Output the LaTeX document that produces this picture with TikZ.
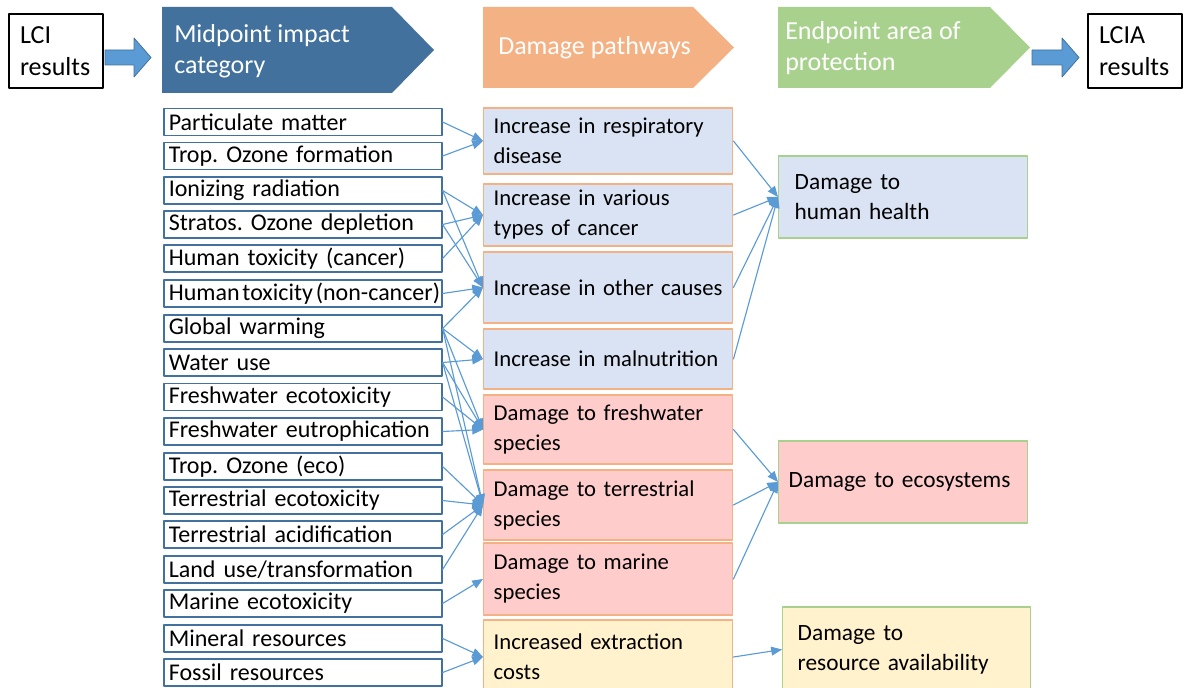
\documentclass[tikz,border=0pt]{standalone}
\usepackage{fontspec}
\setmainfont{Carlito}
\usepackage{xcolor}
\usetikzlibrary{arrows}
\frenchspacing
\definecolor{midblue}{HTML}{41719C}
\definecolor{pathorange}{HTML}{F4B183}
\definecolor{endgreen}{HTML}{A9D18E}
\definecolor{arrowblue}{HTML}{5B9BD5}
\definecolor{healthfill}{HTML}{DAE3F3}
\definecolor{ecofill}{HTML}{FFCCCC}
\definecolor{resfill}{HTML}{FFF2CC}
\begin{document}
\begin{tikzpicture}
			[line cap=round,line join=round,>=triangle 45,x=0.75pt,y=-0.75pt,
			headtext/.style={text=white,anchor=west,align=left,inner sep=0pt,font=\fontsize{19.5}{23.25}\selectfont},
			resbox/.style={draw=black,line width=1.5pt,anchor=north west,minimum height=55.5pt,text width=54pt,inner xsep=8.25pt,inner ysep=0pt,align=left,font=\fontsize{19.5}{24}\selectfont},
			midbox/.style={draw=midblue,line width=1.2pt,anchor=west,text width=201pt,inner xsep=3.75pt,inner ysep=0pt,minimum height=20pt,align=left,font=\fontsize{18}{21}\selectfont},
			pathbox/.style={draw=pathorange,line width=1.1pt,anchor=west,text width=171.75pt,inner xsep=7.5pt,inner ysep=0pt,align=left,font=\fontsize{17}{22.5}\selectfont},
			endbox/.style={draw=endgreen,line width=1.1pt,anchor=west,inner ysep=0pt,align=left,font=\fontsize{17.5}{22.5}\selectfont},
			conn/.style={draw=arrowblue,line width=0.85pt,->},
			blockarrow/.style={draw=midblue,fill=arrowblue,line width=0.6pt}]
			\useasboundingbox (0,0) rectangle (1192,688);
			% header
			\node[resbox] (lci) at (8,13) {LCI\\results};
			\draw[blockarrow] (105,50) -- (134,50) -- (134,38) -- (151,57.5) -- (134,77) -- (134,65) -- (105,65) -- cycle;
			\fill[midblue] (162,7) -- (392,7) -- (434,50) -- (392,93) -- (162,93) -- cycle;
			\node[headtext] (midhead) at (174,51.5) {Midpoint impact\\category};
			\fill[pathorange] (483,7) -- (693,7) -- (734,47.5) -- (693,88) -- (483,88) -- cycle;
			\node[headtext] (pathhead) at (498,47.5) {Damage pathways};
			\fill[endgreen] (778,7) -- (990,7) -- (1030,47.5) -- (990,88) -- (778,88) -- cycle;
			\node[headtext] (endhead) at (785,48) {Endpoint area of\\protection};
			\draw[blockarrow] (1032,50) -- (1062,50) -- (1062,38) -- (1079,57.5) -- (1062,77) -- (1062,65) -- (1032,65) -- cycle;
			\node[resbox] (lcia) at (1087,13) {LCIA\\results};
			% midpoint categories
			\node[midbox] (m1) at (163,122) {Particulate matter};
			\node[midbox] (m2) at (163,156) {Trop. Ozone formation};
			\node[midbox] (m3) at (163,190.5) {Ionizing radiation};
			\node[midbox] (m4) at (163,224.5) {Stratos. Ozone depletion};
			\node[midbox] (m5) at (163,258.5) {Human toxicity (cancer)};
			\node[midbox] (m6) at (163,293.5) {\spaceskip=0.12em\mbox{Human toxicity (non-cancer)}};
			\node[midbox] (m7) at (163,328.5) {Global warming};
			\node[midbox] (m8) at (163,362.5) {Water use};
			\node[midbox] (m9) at (163,397) {Freshwater ecotoxicity};
			\node[midbox] (m10) at (163,431.5) {Freshwater eutrophication};
			\node[midbox] (m11) at (163,466.5) {Trop. Ozone (eco)};
			\node[midbox] (m12) at (163,500.5) {Terrestrial ecotoxicity};
			\node[midbox] (m13) at (163,534.5) {Terrestrial acidification};
			\node[midbox] (m14) at (163,569.5) {Land use/transformation};
			\node[midbox] (m15) at (163,603.5) {Marine ecotoxicity};
			\node[midbox] (m16) at (163,638.5) {Mineral resources};
			\node[midbox] (m17) at (163,672.5) {Fossil resources};
			% damage pathways
			\node[pathbox,fill=healthfill,minimum height=49.5pt] (p1) at (483,141) {Increase in respiratory\\disease};
			\node[pathbox,fill=healthfill,minimum height=46.5pt] (p2) at (483,215) {Increase in various\\types of cancer};
			\node[pathbox,fill=healthfill,minimum height=53.25pt] (p3) at (483,287.5) {Increase~in~other~causes};
			\node[pathbox,fill=healthfill,minimum height=45pt] (p4) at (483,359) {Increase~in~malnutrition};
			\node[pathbox,fill=ecofill,minimum height=51.75pt] (p5) at (483,429.5) {Damage to freshwater\\species};
			\node[pathbox,fill=ecofill,minimum height=52.5pt] (p6) at (483,505) {Damage to terrestrial\\species};
			\node[pathbox,fill=ecofill,minimum height=54pt] (p7) at (483,579) {Damage to marine\\species};
			\node[pathbox,fill=resfill,minimum height=55.5pt] (p8) at (483,657) {Increased extraction\\costs};
			% endpoints
			\node[endbox,fill=healthfill,minimum height=61.5pt,text width=162.75pt,inner xsep=12pt] (e1) at (778,197) {Damage to\\human health};
			\node[endbox,fill=ecofill,minimum height=61.5pt,text width=171.75pt,inner xsep=7.5pt] (e2) at (778,482) {Damage to ecosystems};
			\node[endbox,fill=resfill,minimum height=63.75pt,text width=163.5pt,inner xsep=11.25pt] (e3) at (782,649.5) {Damage to\\resource availability};
			% midpoint -> pathway
			\draw[conn] (m1.east) -- (p1.west);
			\draw[conn] (m2.east) -- (p1.west);
			\draw[conn] (m3.east) -- (p2.west);
			\draw[conn] (m3.east) -- (p3.west);
			\draw[conn] (m4.east) -- (p2.west);
			\draw[conn] (m4.east) -- (p3.west);
			\draw[conn] (m5.east) -- (p2.west);
			\draw[conn] (m6.east) -- (p3.west);
			\draw[conn] (m7.east) -- (p3.west);
			\draw[conn] (m7.east) -- (p4.west);
			\draw[conn] (m7.east) -- (p5.west);
			\draw[conn] (m7.east) -- (p6.west);
			\draw[conn] (m8.east) -- (p4.west);
			\draw[conn] (m8.east) -- (p5.west);
			\draw[conn] (m8.east) -- (p6.west);
			\draw[conn] (m9.east) -- (p5.west);
			\draw[conn] (m10.east) -- (p5.west);
			\draw[conn] (m11.east) -- (p6.west);
			\draw[conn] (m12.east) -- (p6.west);
			\draw[conn] (m13.east) -- (p6.west);
			\draw[conn] (m14.east) -- (p6.west);
			\draw[conn] (m15.east) -- (p7.west);
			\draw[conn] (m16.east) -- (p8.west);
			\draw[conn] (m17.east) -- (p8.west);
			% pathway -> endpoint
			\draw[conn] (p1.east) -- (e1.west);
			\draw[conn] (p2.east) -- (e1.west);
			\draw[conn] (p3.east) -- (e1.west);
			\draw[conn] (p4.east) -- (e1.west);
			\draw[conn] (p5.east) -- (e2.west);
			\draw[conn] (p6.east) -- (e2.west);
			\draw[conn] (p7.east) -- (e2.west);
			\draw[conn] (p8.east) -- (e3.west);
		\end{tikzpicture}
\end{document}
